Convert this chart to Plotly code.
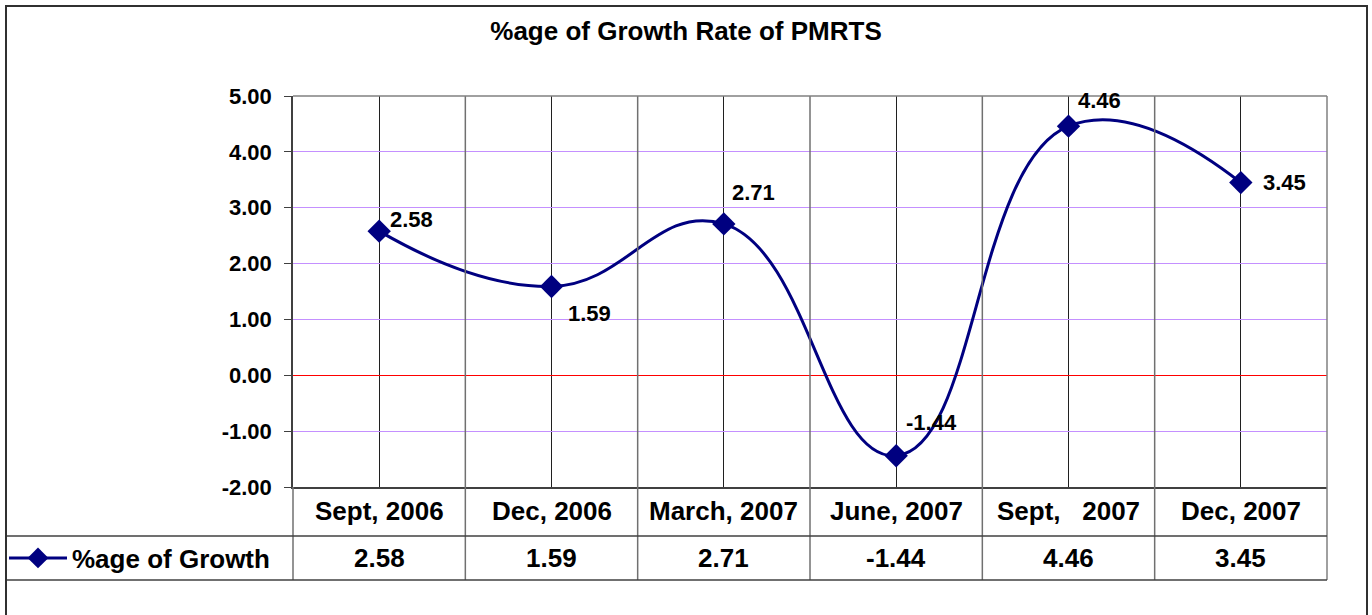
import plotly.graph_objects as go

# Quarterly growth rate of PMRTS (%)
quarters = ["Sept, 2006", "Dec, 2006", "March, 2007", "June, 2007",
            "Sept,\u00a0\u00a0 2007", "Dec, 2007"]
growth = [2.58, 1.59, 2.71, -1.44, 4.46, 3.45]
series_name = "%age of Growth"
y_ticks = [5, 4, 3, 2, 1, 0, -1, -2]
y_tick_text = [f"{v:.2f}" for v in y_ticks]

# label offsets (px) relative to each marker
label_dx = [32, 38, 30, 35, 31, 44]
label_dy = [12, -27, 31, 33, 26, 0]

W, H = 1372, 615
L, R, T, B = 293, 1327, 96, 487          # plot area in pixels
ROW1, ROW2 = 536, 580                    # data-table row bottoms
FONT = "Arial, Liberation Sans, sans-serif"

def px(x):
    return (x - L) / (R - L)

def py(y):
    return (B - y) / (B - T)

n = len(quarters)
xs = list(range(n))

fig = go.Figure()
fig.add_trace(go.Scatter(
    x=xs, y=growth, name=series_name, mode="lines+markers",
    line=dict(color="#000080", width=3, shape="spline", smoothing=1.3),
    marker=dict(symbol="diamond", size=18, color="#000080"),
    showlegend=True,
))

annotations = []
# point labels
for i, v in enumerate(growth):
    annotations.append(dict(
        x=i, y=v, xref="x", yref="y", text=f"{v:.2f}", showarrow=False,
        xanchor="center", yanchor="middle",
        xshift=label_dx[i], yshift=label_dy[i],
        font=dict(family=FONT, size=22, color="#000000", weight="bold"),
    ))
# data table: category row and value row
for i, (q, v) in enumerate(zip(quarters, growth)):
    cx = (i + 0.5) / n
    annotations.append(dict(
        x=cx, y=py((B + ROW1) / 2), xref="paper", yref="paper", text=q,
        showarrow=False, xanchor="center", yanchor="middle",
        font=dict(family=FONT, size=26, color="#000000", weight="bold"),
    ))
    annotations.append(dict(
        x=cx, y=py((ROW1 + ROW2) / 2), xref="paper", yref="paper",
        text=f"{v:.2f}", showarrow=False, xanchor="center", yanchor="middle",
        font=dict(family=FONT, size=26, color="#000000", weight="bold"),
    ))

shapes = []
# column borders of the data table running up through the plot
for i in range(1, n):
    shapes.append(dict(type="line", xref="paper", yref="paper",
                       x0=i / n, x1=i / n, y0=py(ROW2), y1=1,
                       line=dict(color="#707070", width=1.5)))
shapes.append(dict(type="line", xref="paper", yref="paper", x0=0, x1=0,
                   y0=py(ROW2), y1=0, line=dict(color="#707070", width=1.5)))
shapes.append(dict(type="line", xref="paper", yref="paper", x0=1, x1=1,
                   y0=py(ROW2), y1=1, line=dict(color="#808080", width=1.5)))
# table row lines
for yy in (ROW1, ROW2):
    shapes.append(dict(type="line", xref="paper", yref="paper",
                       x0=px(6), x1=1, y0=py(yy), y1=py(yy),
                       line=dict(color="#404040", width=1.5)))
# top edge of the plot area
shapes.append(dict(type="line", xref="paper", yref="paper", x0=0, x1=1,
                   y0=1, y1=1, line=dict(color="#808080", width=1.5)))
# chart frame
shapes.append(dict(type="rect", xref="paper", yref="paper",
                   x0=px(6), x1=px(1367), y0=py(630), y1=py(6),
                   line=dict(color="#303030", width=2)))

fig.update_layout(
    width=W, height=H,
    margin=dict(l=L, r=W - R, t=T, b=H - B, pad=0, autoexpand=False),
    paper_bgcolor="#ffffff", plot_bgcolor="#ffffff",
    font=dict(family=FONT, size=22, color="#000000"),
    title=dict(text="<b>%age of Growth Rate of PMRTS</b>",
               xref="container", x=686 / W, xanchor="center",
               y=1 - 31 / H, yanchor="middle",
               font=dict(family=FONT, size=26, color="#000000")),
    xaxis=dict(range=[-0.5, n - 0.5], tickvals=xs, showticklabels=False,
               showgrid=True, gridcolor="#202020", gridwidth=1,
               zeroline=False, showline=True, linecolor="#404040",
               linewidth=1.5, mirror=False, ticks=""),
    yaxis=dict(range=[-2, 5], tickvals=y_ticks, ticktext=y_tick_text,
               showgrid=True, gridcolor="#C490FF", gridwidth=1,
               zeroline=True, zerolinecolor="#FF0000", zerolinewidth=1,
               showline=True, linecolor="#404040", linewidth=1.5,
               ticks="outside", ticklen=7, tickcolor="#404040",
               ticklabelstandoff=8,
               tickfont=dict(family=FONT, size=22, color="#000000",
                             weight="bold")),
    legend=dict(x=px(4), y=py((ROW1 + ROW2) / 2), xanchor="left",
                yanchor="middle", bgcolor="rgba(0,0,0,0)",
                font=dict(family=FONT, size=26, color="#000000",
                          weight="bold"),
                itemwidth=58),
    annotations=annotations,
    shapes=shapes,
)

fig.write_html("out.html")
